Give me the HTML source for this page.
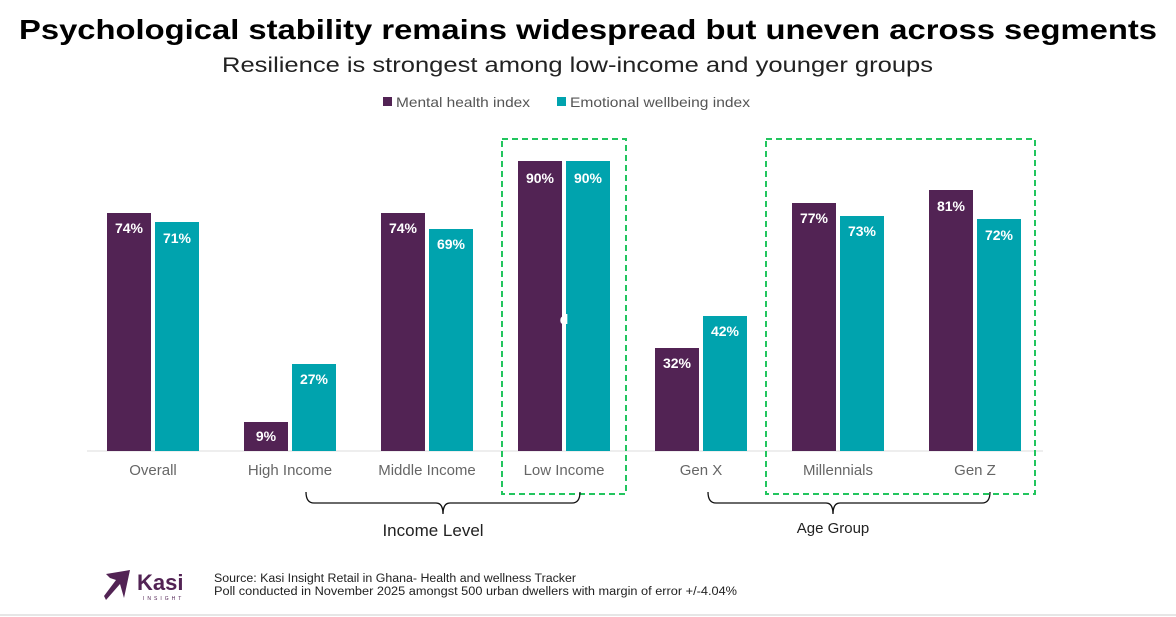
<!DOCTYPE html><html><head><meta charset="utf-8"><style>body{margin:0;background:#fff}svg{display:block;font-family:"Liberation Sans",sans-serif}</style></head><body>
<svg width="1176" height="617" viewBox="0 0 1176 617">
<text x="19" y="39" textLength="1138" lengthAdjust="spacingAndGlyphs" font-size="28" font-weight="bold" fill="#000">Psychological stability remains widespread but uneven across segments</text>
<text x="222" y="72" textLength="711" lengthAdjust="spacingAndGlyphs" font-size="21" fill="#222">Resilience is strongest among low-income and younger groups</text>
<rect x="383" y="97" width="9" height="9" fill="#522354"/><text x="396" y="107" textLength="134" lengthAdjust="spacingAndGlyphs" font-size="14" fill="#555">Mental health index</text>
<rect x="557" y="97" width="9" height="9" fill="#00A3AE"/><text x="570" y="107" textLength="180" lengthAdjust="spacingAndGlyphs" font-size="14" fill="#555">Emotional wellbeing index</text>
<line x1="87" y1="451" x2="1043" y2="451" stroke="#ddd"/>
<g font-size="14" font-weight="bold" fill="#fff" text-anchor="middle">
<rect x="107" y="213" width="44" height="238" fill="#522354"/><text x="129" y="233">74%</text>
<rect x="155" y="222" width="44" height="229" fill="#00A3AE"/><text x="177" y="243">71%</text>
<rect x="244" y="422" width="44" height="29" fill="#522354"/><text x="266" y="441">9%</text>
<rect x="292" y="364" width="44" height="87" fill="#00A3AE"/><text x="314" y="384">27%</text>
<rect x="381" y="213" width="44" height="238" fill="#522354"/><text x="403" y="233">74%</text>
<rect x="429" y="229" width="44" height="222" fill="#00A3AE"/><text x="451" y="249">69%</text>
<rect x="518" y="161" width="44" height="290" fill="#522354"/><text x="540" y="183">90%</text>
<rect x="566" y="161" width="44" height="290" fill="#00A3AE"/><text x="588" y="183">90%</text>
<text x="564" y="324">d</text>
<rect x="655" y="348" width="44" height="103" fill="#522354"/><text x="677" y="368">32%</text>
<rect x="703" y="316" width="44" height="135" fill="#00A3AE"/><text x="725" y="336">42%</text>
<rect x="792" y="203" width="44" height="248" fill="#522354"/><text x="814" y="223">77%</text>
<rect x="840" y="216" width="44" height="235" fill="#00A3AE"/><text x="862" y="236">73%</text>
<rect x="929" y="190" width="44" height="261" fill="#522354"/><text x="951" y="211">81%</text>
<rect x="977" y="219" width="44" height="232" fill="#00A3AE"/><text x="999" y="240">72%</text>
</g>
<g font-size="15" fill="#666" text-anchor="middle">
<text x="153" y="475">Overall</text><text x="290" y="475">High Income</text><text x="427" y="475">Middle Income</text><text x="564" y="475">Low Income</text><text x="701" y="475">Gen X</text><text x="838" y="475">Millennials</text><text x="975" y="475">Gen Z</text>
</g>
<g fill="none" stroke="#22c55e" stroke-width="2" stroke-dasharray="6,4">
<rect x="502" y="139" width="124" height="355"/><rect x="766" y="139" width="269" height="355"/>
</g>
<g fill="none" stroke="#111" stroke-width="1.3">
<path d="M306 492 Q306 503 314 503 L436 503 Q443 503 443 514 Q443 503 450 503 L572 503 Q580 503 580 492"/>
<path d="M708 492 Q708 503 716 503 L826 503 Q833 503 833 514 Q833 503 840 503 L982 503 Q990 503 990 492"/>
</g>
<text x="433" y="536" text-anchor="middle" font-size="17" fill="#222">Income Level</text>
<text x="833" y="533" text-anchor="middle" font-size="15" fill="#222">Age Group</text>
<path d="M106 574 L130 570 L124 598 L120 584 L106 600 L104 596 L116 580 L110 578 Z" fill="#522354"/>
<text x="137" y="590" font-size="22" font-weight="bold" fill="#522354">Kasi</text>
<text x="143" y="600" font-size="5" fill="#522354" letter-spacing="3">INSIGHT</text>
<text x="214" y="582" textLength="362" lengthAdjust="spacingAndGlyphs" font-size="11.5" fill="#222">Source: Kasi Insight Retail in Ghana- Health and wellness Tracker</text>
<text x="214" y="595" textLength="523" lengthAdjust="spacingAndGlyphs" font-size="11.5" fill="#222">Poll conducted in November 2025 amongst 500 urban dwellers with margin of error +/-4.04%</text>
<line x1="0" y1="615" x2="1176" y2="615" stroke="#ccc"/>
</svg></body></html>
